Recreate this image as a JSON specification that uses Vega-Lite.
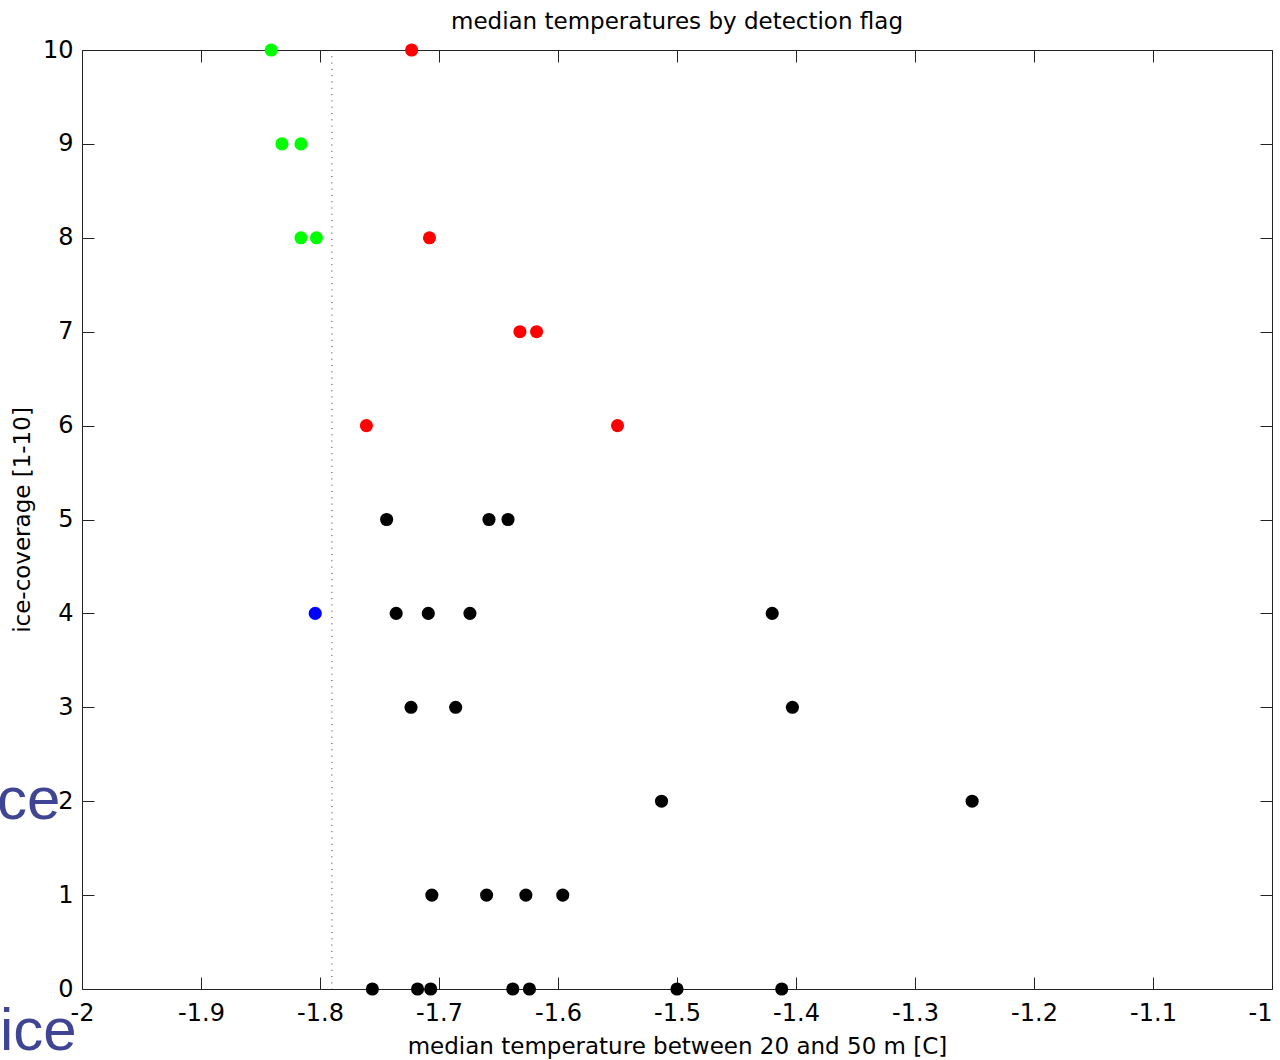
{
  "$schema": "https://vega.github.io/schema/vega-lite/v6.json",
  "width": 1190,
  "height": 939,
  "autosize": "none",
  "padding": {"left": 82, "top": 50, "right": 8, "bottom": 71},
  "background": "white",
  "title": {"text": "median temperatures by detection flag", "font": "DejaVu Sans", "fontSize": 23, "fontWeight": "normal", "color": "#000000", "anchor": "middle", "offset": 4},
  "datasets": {
    "pts": [
      {"temp": -1.841, "ice": 10, "flag": "green"},
      {"temp": -1.832, "ice": 9, "flag": "green"},
      {"temp": -1.816, "ice": 9, "flag": "green"},
      {"temp": -1.816, "ice": 8, "flag": "green"},
      {"temp": -1.803, "ice": 8, "flag": "green"},
      {"temp": -1.723, "ice": 10, "flag": "red"},
      {"temp": -1.708, "ice": 8, "flag": "red"},
      {"temp": -1.632, "ice": 7, "flag": "red"},
      {"temp": -1.618, "ice": 7, "flag": "red"},
      {"temp": -1.761, "ice": 6, "flag": "red"},
      {"temp": -1.550, "ice": 6, "flag": "red"},
      {"temp": -1.744, "ice": 5, "flag": "black"},
      {"temp": -1.658, "ice": 5, "flag": "black"},
      {"temp": -1.642, "ice": 5, "flag": "black"},
      {"temp": -1.804, "ice": 4, "flag": "blue"},
      {"temp": -1.736, "ice": 4, "flag": "black"},
      {"temp": -1.709, "ice": 4, "flag": "black"},
      {"temp": -1.674, "ice": 4, "flag": "black"},
      {"temp": -1.420, "ice": 4, "flag": "black"},
      {"temp": -1.7235, "ice": 3, "flag": "black"},
      {"temp": -1.686, "ice": 3, "flag": "black"},
      {"temp": -1.403, "ice": 3, "flag": "black"},
      {"temp": -1.513, "ice": 2, "flag": "black"},
      {"temp": -1.252, "ice": 2, "flag": "black"},
      {"temp": -1.706, "ice": 1, "flag": "black"},
      {"temp": -1.660, "ice": 1, "flag": "black"},
      {"temp": -1.627, "ice": 1, "flag": "black"},
      {"temp": -1.596, "ice": 1, "flag": "black"},
      {"temp": -1.756, "ice": 0, "flag": "black"},
      {"temp": -1.718, "ice": 0, "flag": "black"},
      {"temp": -1.707, "ice": 0, "flag": "black"},
      {"temp": -1.638, "ice": 0, "flag": "black"},
      {"temp": -1.624, "ice": 0, "flag": "black"},
      {"temp": -1.500, "ice": 0, "flag": "black"},
      {"temp": -1.412, "ice": 0, "flag": "black"}
    ]
  },
  "config": {
    "view": {"stroke": null},
    "axis": {
      "domainColor": "#222222",
      "tickColor": "#222222",
      "labelColor": "#000000",
      "titleColor": "#000000",
      "labelFont": "DejaVu Sans",
      "titleFont": "DejaVu Sans",
      "labelFontSize": 24,
      "titleFontSize": 23,
      "titleFontWeight": "normal",
      "grid": false,
      "tickSize": -12,
      "labelFlush": false,
      "labelOverlap": false
    }
  },
  "resolve": {"axis": {"x": "independent", "y": "independent"}},
  "layer": [
    {
      "data": {"name": "pts"},
      "mark": {"type": "point", "opacity": 0},
      "encoding": {
        "x": {"field": "temp", "type": "quantitative", "scale": {"domain": [-2, -1], "nice": false, "zero": false},
              "axis": {"orient": "top", "labels": false, "title": null, "values": [-2, -1.9, -1.8, -1.7, -1.6, -1.5, -1.4, -1.3, -1.2, -1.1, -1]}},
        "y": {"field": "ice", "type": "quantitative", "scale": {"domain": [0, 10], "nice": false, "zero": false},
              "axis": {"orient": "right", "labels": false, "title": null, "values": [0, 1, 2, 3, 4, 5, 6, 7, 8, 9, 10]}}
      }
    },
    {
      "data": {"values": [{"freeze": -1.79}]},
      "mark": {"type": "rule", "color": "#333333", "strokeWidth": 1, "strokeDash": [1, 5.3]},
      "encoding": {
        "x": {"field": "freeze", "type": "quantitative", "scale": {"domain": [-2, -1], "nice": false, "zero": false}, "axis": null}
      }
    },
    {
      "data": {"name": "pts"},
      "mark": {"type": "circle", "size": 172, "opacity": 1},
      "encoding": {
        "x": {"field": "temp", "type": "quantitative", "scale": {"domain": [-2, -1], "nice": false, "zero": false},
              "axis": {"orient": "bottom", "title": "median temperature between 20 and 50 m [C]", "titlePadding": 10, "labelPadding": 24,
                       "values": [-2, -1.9, -1.8, -1.7, -1.6, -1.5, -1.4, -1.3, -1.2, -1.1, -1],
                       "labelAlign": {"condition": {"test": "datum.value == -1", "value": "right"}, "value": "center"},
                       "labelExpr": "datum.value < 0 ? '-' + format(-datum.value, '.1~f') : format(datum.value, '.1~f')"}},
        "y": {"field": "ice", "type": "quantitative", "scale": {"domain": [0, 10], "nice": false, "zero": false},
              "axis": {"orient": "left", "title": "ice-coverage [1-10]", "titlePadding": 8, "labelPadding": 21,
                       "values": [0, 1, 2, 3, 4, 5, 6, 7, 8, 9, 10]}},
        "color": {"field": "flag", "type": "nominal",
                  "scale": {"domain": ["black", "red", "green", "blue"], "range": ["#000000", "#ff0000", "#00ff00", "#0000ff"]},
                  "legend": null}
      }
    },
    {
      "data": {"values": [{"word": "ice", "tx": -2.0182, "ty": 1.81}, {"word": "ice", "tx": -2.0045, "ty": -0.65}]},
      "mark": {"type": "text", "font": "Liberation Sans", "fontSize": 60, "color": "#3f4493", "align": "right", "baseline": "alphabetic", "clip": false},
      "encoding": {
        "x": {"field": "tx", "type": "quantitative", "scale": {"domain": [-2, -1], "nice": false, "zero": false}, "axis": null},
        "y": {"field": "ty", "type": "quantitative", "scale": {"domain": [0, 10], "nice": false, "zero": false}, "axis": null},
        "text": {"field": "word"}
      }
    }
  ]
}
